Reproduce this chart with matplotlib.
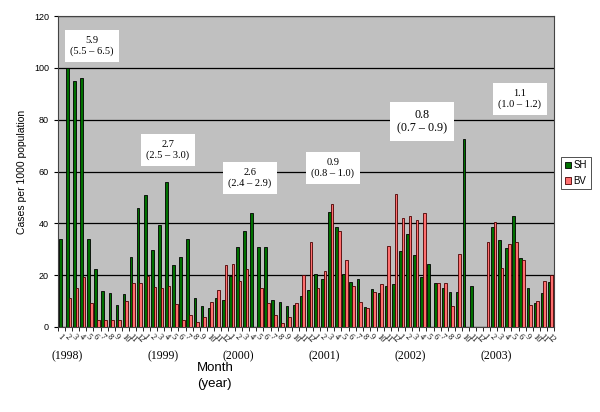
import matplotlib
matplotlib.use("Agg")
import matplotlib.pyplot as plt
import numpy as np
from matplotlib.patches import Patch

# monthly rates
sh_1998 = [34, 100, 95, 96, 34, 22.5, 14, 13, 8.5, 12.7, 27, 46]
bv_1998 = [0, 11.3, 15.2, 19.3, 9.1, 2.7, 2.6, 2.6, 2.7, 9.9, 17.1, 17.1]
sh_1999 = [50.8, 29.7, 39.5, 55.8, 23.8, 27.2, 34.1, 11.2, 8.1, 7.4, 11.2, 10.3]
bv_1999 = [19.7, 15.4, 14.9, 15.8, 8.7, 2.6, 4.6, 1.8, 3.7, 9.5, 14.1, 24.1]
sh_2000 = [19.5, 31, 36.9, 44, 31, 31, 10.6, 9.5, 8.1, 8.3, 12.1, 14.1]
bv_2000 = [24.5, 17.8, 22.4, 0, 14.9, 9.1, 4.5, 1.7, 3.7, 9.1, 19.9, 32.7]
sh_2001 = [20.6, 18.7, 44.4, 38.7, 20.5, 17.4, 18.7, 7.8, 14.5, 13.2, 15.8, 16.7]
bv_2001 = [14.9, 21.5, 47.4, 37.2, 25.9, 16, 9.6, 7.4, 13.6, 16.4, 31.4, 51.3]
sh_2002 = [29.5, 36, 27.9, 19.1, 24.2, 16.8, 14.9, 13.5, 13.6, 72.6, 16, 0]
bv_2002 = [41.9, 42.9, 41.3, 44, 0, 16.8, 16.8, 8.1, 28.1, 0, 0, 0]
sh_2003 = [0, 38.7, 33.6, 30.6, 42.9, 26.8, 15.1, 9.2, 13.3, 17.2]
bv_2003 = [32.7, 40.5, 22.8, 32, 32.7, 25.9, 8.6, 9.9, 17.6, 20]

months_full = ["1", "2", "3", "4", "5", "6", "7", "8", "9", "10", "11", "12"]
months_2003 = ["1", "2", "3", "4", "5", "6", "9", "10", "11", "12"]

years = ["(1998)", "(1999)", "(2000)", "(2001)", "(2002)", "(2003)"]
year_px = [67, 163, 238, 324, 410, 496]

notes = ["5.9\n(5.5 \u2013 6.5)", "2.7\n(2.5 \u2013 3.0)", "2.6\n(2.4 \u2013 2.9)",
         "0.9\n(0.8 \u2013 1.0)", "0.8\n(0.7 \u2013 0.9)", "1.1\n(1.0 \u2013 1.2)"]
note_x = [4.3, 15.0, 26.6, 38.3, 50.9, 64.7]
note_y = [108.5, 68.3, 57.5, 61.4, 79.2, 88.0]
note_size = [7.5, 7.5, 7.5, 7.5, 8.7, 7.5]

sh = np.array(sh_1998 + sh_1999 + sh_2000 + sh_2001 + sh_2002 + sh_2003, dtype=float)
bv = np.array(bv_1998 + bv_1999 + bv_2000 + bv_2001 + bv_2002 + bv_2003, dtype=float)
labels = months_full * 5 + months_2003
x = np.arange(len(sh))

sh_col = "#007000"
bv_col = "#ff6f6f"

fig = plt.figure(figsize=(6, 4.12), dpi=100)
ax = fig.add_axes([58 / 600, 1 - 327 / 412, 496 / 600, 311 / 412])
ax.set_facecolor("#c0c0c0")

w = 0.37
m = sh > 0
ax.bar(x[m] - w / 2, sh[m], w, color=sh_col, edgecolor="black", linewidth=0.6, zorder=3)
m = bv > 0
ax.bar(x[m] + w / 2, bv[m], w, color=bv_col, edgecolor="#4a0000", linewidth=0.6, zorder=3)

ax.set_xlim(-0.5, len(x) - 0.5)
ax.set_ylim(0, 120)
ax.set_yticks(range(0, 121, 20))
ax.yaxis.grid(True, color="black", linewidth=0.9)
ax.set_axisbelow(True)
for s in ax.spines.values():
    s.set_color("#444444")
    s.set_linewidth(0.8)

ax.set_xticks(x)
ax.set_xticklabels(labels, rotation=-45, fontsize=6, family="Liberation Serif",
                   ha="left", rotation_mode="anchor")
ax.tick_params(axis="x", length=0, pad=4)
ax.set_xticks(np.arange(-0.5, len(x), 1), minor=True)
ax.tick_params(axis="x", which="minor", length=3, color="black")
ax.tick_params(axis="y", labelsize=6.5, length=3)
for t in ax.get_yticklabels():
    t.set_family("Liberation Sans")

for s, xi, yi, fs in zip(notes, note_x, note_y, note_size):
    ax.text(xi, yi, s, ha="center", va="center", fontsize=fs, family="Liberation Serif",
            multialignment="center", zorder=5,
            bbox=dict(boxstyle="square,pad=0.55", facecolor="white", edgecolor="none"))

for s, px in zip(years, year_px):
    fig.text(px / 600, 1 - 356 / 412, s, ha="center", va="center", fontsize=8.5,
             family="Liberation Serif")

fig.text(197 / 600, 1 - 362 / 412, "Month\n(year)", ha="left", va="top", fontsize=9.5,
         family="Liberation Sans", linespacing=1.4)
fig.text(22 / 600, 1 - 172 / 412, "Cases per 1000 population", rotation=90,
         ha="center", va="center", fontsize=7.5, family="Liberation Sans")

handles = [Patch(facecolor=sh_col, edgecolor="black", linewidth=0.6),
           Patch(facecolor=bv_col, edgecolor="#4a0000", linewidth=0.6)]
leg = fig.legend(handles, ["SH", "BV"], loc="center", bbox_to_anchor=(576 / 600, 1 - 173 / 412),
                 frameon=True, fancybox=False, handlelength=0.6, handleheight=0.6,
                 handletextpad=0.3, borderpad=0.35, labelspacing=0.6,
                 prop={"family": "Liberation Sans", "size": 7})
leg.get_frame().set_edgecolor("black")
leg.get_frame().set_linewidth(0.6)

fig.savefig("out.png", dpi=100)
